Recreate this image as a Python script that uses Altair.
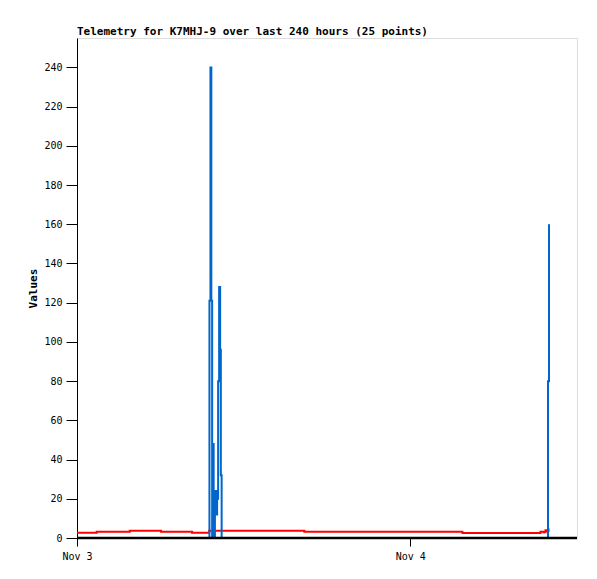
import altair as alt
import pandas as pd

# Red series (step values)
red_times = [
    "2023-11-03T00:00:00", "2023-11-03T01:25:00", "2023-11-03T03:48:00",
    "2023-11-03T06:03:00", "2023-11-03T08:17:00", "2023-11-03T09:31:00",
    "2023-11-03T16:22:00", "2023-11-04T03:45:00", "2023-11-04T09:22:00",
    "2023-11-04T09:35:00", "2023-11-04T09:44:00", "2023-11-04T09:52:00",
    "2023-11-04T09:57:00", "2023-11-04T10:01:00",
]
red_values = [2.7, 3.2, 3.7, 3.2, 2.7, 3.7, 3.2, 2.6, 3.2, 2.9, 4.0, 3.6, 4.5, 4.5]

# Blue series (step values)
blue_times = [
    "2023-11-03T09:31:00", "2023-11-03T09:32:10", "2023-11-03T09:36:30",
    "2023-11-03T09:40:20", "2023-11-03T09:43:50", "2023-11-03T09:46:00",
    "2023-11-03T09:50:20", "2023-11-03T09:53:20", "2023-11-03T09:55:50",
    "2023-11-03T10:01:00", "2023-11-03T10:05:20", "2023-11-03T10:09:40",
    "2023-11-03T10:14:00", "2023-11-03T10:18:20", "2023-11-03T10:21:20",
    "2023-11-03T10:24:50", "2023-11-04T09:54:40", "2023-11-04T09:59:00",
]
blue_values = [0, 121, 240, 121, 0, 48, 8, 0, 24, 12, 20, 80, 128, 96, 32, 0, 80, 160]

y_ticks = [0, 20, 40, 60, 80, 100, 120, 140, 160, 180, 200, 220, 240]

red_df = pd.DataFrame({"time": red_times, "value": red_values})
blue_df = pd.DataFrame({"time": blue_times, "value": blue_values})

FONT = "DejaVu Sans Mono"

x_scale = alt.Scale(domain=[alt.DateTime(year=2023, month=11, date=3, hours=0),
                            alt.DateTime(year=2023, month=11, date=4, hours=12)])
y_scale = alt.Scale(domain=[0, 255], nice=False)

x_enc = alt.X("time:T", scale=x_scale, title=None,
              axis=alt.Axis(values=[alt.DateTime(year=2023, month=11, date=3),
                                    alt.DateTime(year=2023, month=11, date=4)],
                            format="%b %-d", grid=False, tickSize=8,
                            labelPadding=5, domain=False, tickColor="black",
                            labelAlign="center", labelFlush=False,
                            labelColor="black", labelFont=FONT, labelFontSize=10))
y_enc = alt.Y("value:Q", scale=y_scale, title="Values",
              axis=alt.Axis(values=y_ticks, grid=False, tickSize=11, labelPadding=4,
                            domainColor="black", tickColor="black", labelColor="black",
                            labelFont=FONT, labelFontSize=10, titleFont=FONT,
                            titleFontSize=11, titleFontWeight="bold", titleColor="black",
                            titlePadding=5))

red = alt.Chart(red_df).mark_line(color="#ff0000", strokeWidth=2,
                                  interpolate="step-after").encode(x=x_enc, y=y_enc)
blue = alt.Chart(blue_df).mark_line(color="#0066cc", strokeWidth=2,
                                    interpolate="step-after").encode(x="time:T", y="value:Q")
zero = alt.Chart(pd.DataFrame({"v": [0]})).mark_rule(color="black", strokeWidth=2.5).encode(
    y="v:Q")

chart = alt.layer(red, blue, zero).properties(
    width=500, height=500,
    title=alt.TitleParams("Telemetry for K7MHJ-9 over last 240 hours (25 points)",
                          anchor="start", frame="group", font=FONT, fontSize=11,
                          fontWeight="bold", color="black", offset=1),
    autosize=alt.AutoSizeParams(type="none"),
    padding={"left": 69, "top": 30, "right": 12, "bottom": 33},
).configure_view(stroke="#333333", strokeWidth=1).configure(background="white")

chart.save("out.html", embed_options={"renderer": "svg", "actions": False})
